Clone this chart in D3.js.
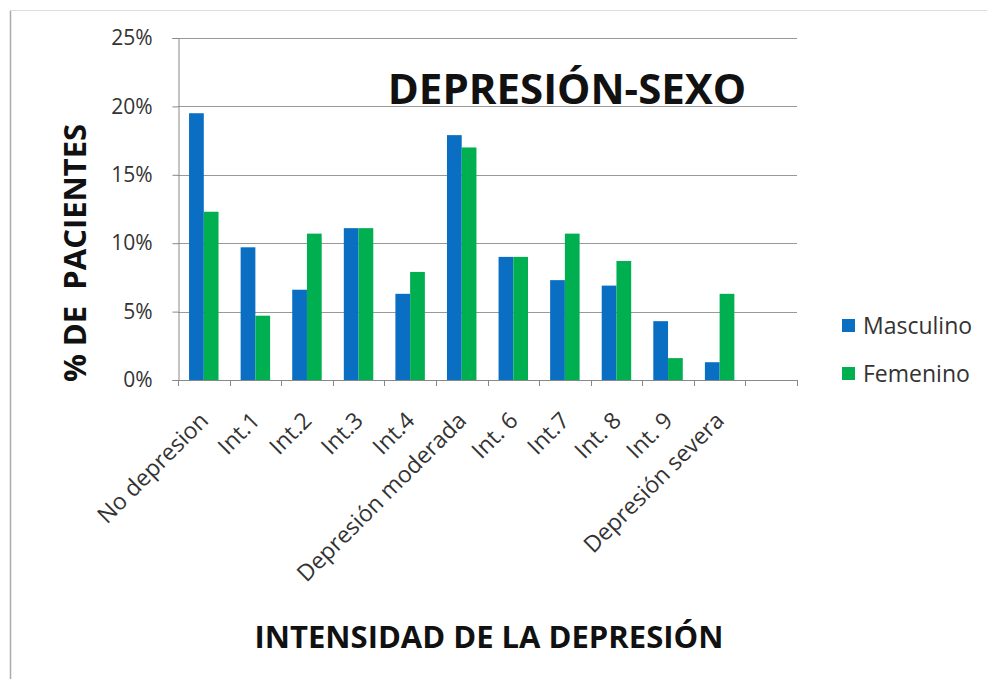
<!DOCTYPE html>
<html>
<head>
<meta charset="utf-8">
<script src="https://cdn.jsdelivr.net/npm/d3@7"></script>
<style>
  html, body { margin: 0; padding: 0; background: #fff; }
  svg { display: block; }
  text { font-family: "Open Sans", "Noto Sans", sans-serif; }
</style>
</head>
<body>
<svg id="chart" width="987" height="679"></svg>
<script>
const categories = ["No depresion", "Int.1", "Int.2", "Int.3", "Int.4", "Depresión moderada", "Int. 6", "Int.7", "Int. 8", "Int. 9", "Depresión severa"];
const seriesNames = ["Masculino", "Femenino"];
const masculino = [19.5, 9.7, 6.6, 11.1, 6.3, 17.9, 9.0, 7.3, 6.9, 4.3, 1.3];
const femenino  = [12.3, 4.7, 10.7, 11.1, 7.9, 17.0, 9.0, 10.7, 8.7, 1.6, 6.3];
const yTicks = [0, 5, 10, 15, 20, 25];
const colors = ["#0A6FC2", "#00B050"];

const svg = d3.select("#chart");
const W = 987, H = 679;
const plot = { left: 178, right: 797, top: 38, bottom: 380 };

// frame
svg.append("line").attr("x1", 10.5).attr("x2", 10.5).attr("y1", 10).attr("y2", H).attr("stroke", "#aaa").attr("stroke-width", 1.5);
svg.append("line").attr("x1", 10).attr("x2", W).attr("y1", 10.5).attr("y2", 10.5).attr("stroke", "#ddd").attr("stroke-width", 1);

// scales: 12 slots, last one left empty as in the original
const domain = categories.concat([" "]);
const x = d3.scaleBand().domain(domain).range([plot.left, plot.right]).paddingInner(1.5 / 3.5).paddingOuter(0.75 / 3.5);
const xs = d3.scaleBand().domain(seriesNames).range([0, x.bandwidth()]);
const y = d3.scaleLinear().domain([0, 25]).range([plot.bottom, plot.top]);

// gridlines
svg.append("g").selectAll("line").data(yTicks.filter(d => d > 0)).join("line")
  .attr("x1", plot.left).attr("x2", plot.right)
  .attr("y1", d => Math.round(y(d)) + 0.5).attr("y2", d => Math.round(y(d)) + 0.5)
  .attr("stroke", "#999").attr("stroke-width", 1);

// bars
const rows = categories.map((c, i) => ({ cat: c, vals: [masculino[i], femenino[i]] }));
const groups = svg.append("g").selectAll("g").data(rows).join("g")
  .attr("transform", d => `translate(${x(d.cat)},0)`);
groups.selectAll("rect").data(d => d.vals.map((v, j) => ({ v, s: seriesNames[j], j }))).join("rect")
  .attr("x", d => xs(d.s))
  .attr("width", xs.bandwidth())
  .attr("y", d => y(d.v))
  .attr("height", d => y(0) - y(d.v))
  .attr("fill", d => colors[d.j]);

// y axis
const yAxis = d3.axisLeft(y).tickValues(yTicks).tickFormat(d => d + "%").tickSizeOuter(0).tickSize(6).tickPadding(20);
const gy = svg.append("g").attr("transform", `translate(${plot.left + 0.5},0)`).call(yAxis);
gy.select(".domain").attr("stroke", "#888");
gy.selectAll(".tick line").attr("stroke", "#888");
gy.selectAll(".tick text").attr("font-size", 21).attr("fill", "#333").attr("font-family", "'Open Sans', sans-serif");

// x axis line + boundary ticks
const gx = svg.append("g");
gx.append("line").attr("x1", plot.left).attr("x2", plot.right).attr("y1", plot.bottom + 0.5).attr("y2", plot.bottom + 0.5).attr("stroke", "#888");
const step = x.step();
gx.selectAll("line.tk").data(d3.range(domain.length + 1)).join("line").attr("class", "tk")
  .attr("x1", i => Math.round(plot.left + i * step) + 0.5).attr("x2", i => Math.round(plot.left + i * step) + 0.5)
  .attr("y1", plot.bottom).attr("y2", plot.bottom + 6).attr("stroke", "#888");

// x labels
svg.append("g").selectAll("text").data(categories).join("text")
  .attr("transform", d => `translate(${x(d) + x.bandwidth() / 2 + 6},${plot.bottom + 42}) rotate(-45)`)
  .attr("text-anchor", "end")
  .attr("font-size", 23)
  .attr("fill", "#333")
  .text(d => d);

// title
svg.append("text").attr("x", 567).attr("y", 104).attr("text-anchor", "middle")
  .attr("font-size", 42).attr("font-weight", "bold").attr("fill", "#111")
  .text("DEPRESIÓN-SEXO");

// y title
svg.append("text").attr("transform", `translate(86,253) rotate(-90)`).attr("text-anchor", "middle")
  .attr("font-size", 31).attr("font-weight", "bold").attr("fill", "#111")
  .attr("xml:space", "preserve")
  .text("% DE  PACIENTES");

// x title
svg.append("text").attr("x", 489).attr("y", 648).attr("text-anchor", "middle")
  .attr("font-size", 31).attr("font-weight", "bold").attr("fill", "#111")
  .text("INTENSIDAD DE LA DEPRESIÓN");

// legend
const leg = svg.append("g").selectAll("g").data(seriesNames).join("g")
  .attr("transform", (d, i) => `translate(842,${325.5 + i * 48})`);
leg.append("rect").attr("x", 0).attr("y", -6.5).attr("width", 13).attr("height", 13).attr("fill", (d, i) => colors[i]);
leg.append("text").attr("x", 21).attr("y", 0).attr("dy", "0.35em").attr("font-size", 23).attr("fill", "#333").text(d => d);
</script>
</body>
</html>
